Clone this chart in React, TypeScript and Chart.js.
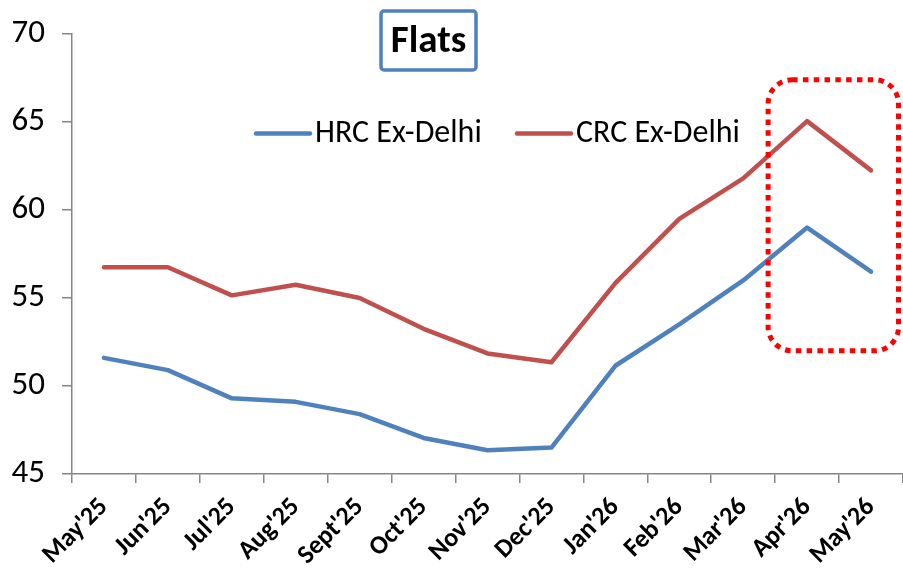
import React, { useEffect, useRef } from "react";
import { Chart, registerables } from "chart.js";

Chart.register(...registerables);

const categories = ["May'25", "Jun'25", "Jul'25", "Aug'25", "Sept'25", "Oct'25", "Nov'25", "Dec'25", "Jan'26", "Feb'26", "Mar'26", "Apr'26", "May'26"];
const hrcExDelhi = [51.6, 50.9, 49.3, 49.1, 48.4, 47.05, 46.35, 46.5, 51.15, 53.5, 56.0, 59.0, 56.5];
const crcExDelhi = [56.75, 56.75, 55.15, 55.75, 55.0, 53.25, 51.85, 51.35, 55.85, 59.5, 61.8, 65.05, 62.25];
const seriesNames = ["HRC Ex-Delhi", "CRC Ex-Delhi"];
const chartTitle = "Flats";
const yMin = 45;
const yMax = 70;
const yStep = 5;
// highlighted region (category index range, value range)
const highlightX = [10.39, 12.43];
const highlightY = [52.0, 67.4];

const FONT = "Carlito, Lato, 'Noto Sans', sans-serif";
const BLUE = "#4F81BD";
const RED = "#C0504D";
const AXIS = "#868686";

const overlay = {
  id: "overlay",
  afterDraw(chart: any) {
    const ctx = chart.ctx;
    const xs = chart.scales.x;
    const ys = chart.scales.y;
    ctx.save();
    // highlight box
    const l = xs.getPixelForValue(highlightX[0]);
    const r = xs.getPixelForValue(highlightX[1]);
    const t = ys.getPixelForValue(highlightY[1]);
    const b = ys.getPixelForValue(highlightY[0]);
    ctx.strokeStyle = "#FF0000";
    ctx.lineWidth = 5;
    ctx.setLineDash([5.5, 5.3]);
    ctx.beginPath();
    (ctx as any).roundRect(l, t, r - l, b - t, 24);
    ctx.stroke();
    ctx.setLineDash([]);

    // title box
    ctx.fillStyle = "#FFFFFF";
    ctx.strokeStyle = BLUE;
    ctx.lineWidth = 3.5;
    ctx.beginPath();
    (ctx as any).roundRect(381, 11, 95, 59, 3);
    ctx.fill();
    ctx.stroke();
    ctx.fillStyle = "#000";
    ctx.font = `bold 39px ${FONT}`;
    ctx.textAlign = "center";
    ctx.textBaseline = "middle";
    ctx.fillText(chartTitle, 428.5, 42);

    // legend
    const items = [
      { x: 256, color: BLUE, label: chart.data.datasets[0].label },
      { x: 517, color: RED, label: chart.data.datasets[1].label },
    ];
    ctx.font = `32px ${FONT}`;
    ctx.textAlign = "left";
    ctx.textBaseline = "middle";
    items.forEach((it) => {
      ctx.strokeStyle = it.color;
      ctx.lineWidth = 4.5;
      ctx.lineCap = "round";
      ctx.beginPath();
      ctx.moveTo(it.x, 133.5);
      ctx.lineTo(it.x + 54, 133.5);
      ctx.stroke();
      ctx.fillStyle = "#000";
      ctx.fillText(it.label, it.x + 59, 134);
    });
    ctx.restore();
  },
};

export default function App() {
  const ref = useRef<HTMLCanvasElement>(null);
  useEffect(() => {
    if (!ref.current) return;
    const chart = new Chart(ref.current, {
      type: "line",
      data: {
        labels: categories,
        datasets: [
          {
            label: seriesNames[0],
            data: hrcExDelhi,
            borderColor: BLUE,
            backgroundColor: BLUE,
            borderWidth: 4.5,
            pointRadius: 0,
            tension: 0,
            borderCapStyle: "round",
            borderJoinStyle: "round",
          },
          {
            label: seriesNames[1],
            data: crcExDelhi,
            borderColor: RED,
            backgroundColor: RED,
            borderWidth: 4.5,
            pointRadius: 0,
            tension: 0,
            borderCapStyle: "round",
            borderJoinStyle: "round",
          },
        ],
      },
      options: {
        responsive: false,
        animation: false,
        devicePixelRatio: 1,
        layout: { padding: { top: 34, left: 0, right: 0, bottom: 0 } },
        plugins: {
          legend: { display: false },
          title: { display: false },
          tooltip: { enabled: false },
        },
        scales: {
          x: {
            offset: true,
            grid: {
              display: true,
              drawOnChartArea: false,
              drawTicks: true,
              tickLength: 9,
              color: AXIS,
              lineWidth: 1.5,
              offset: true,
            },
            border: { color: AXIS, width: 1.5 },
            ticks: {
              minRotation: 45,
              maxRotation: 45,
              autoSkip: false,
              color: "#000",
              padding: 9,
              font: { family: FONT, size: 26, weight: "bold" },
            },
            afterFit(s: any) {
              s.height = 104;
              s.paddingLeft = 0;
              s.paddingRight = 0;
            },
          },
          y: {
            min: yMin,
            max: yMax,
            ticks: {
              stepSize: yStep,
              color: "#000",
              padding: 17,
              font: { family: FONT, size: 33 },
            },
            grid: {
              display: true,
              drawOnChartArea: false,
              drawTicks: true,
              tickLength: 10,
              color: AXIS,
              lineWidth: 1.5,
            },
            border: { color: AXIS, width: 1.5 },
            afterFit(s: any) {
              s.width = 72;
              s.paddingTop = 0;
              s.paddingBottom = 0;
            },
          },
        },
      },
      plugins: [overlay],
    } as any);
    return () => chart.destroy();
  }, []);
  return (
    <div style={{ position: "fixed", left: 0, top: 0, width: 903, height: 578, background: "#fff" }}>
      <canvas ref={ref} width={903} height={578} style={{ width: 903, height: 578, display: "block" }} />
    </div>
  );
}
